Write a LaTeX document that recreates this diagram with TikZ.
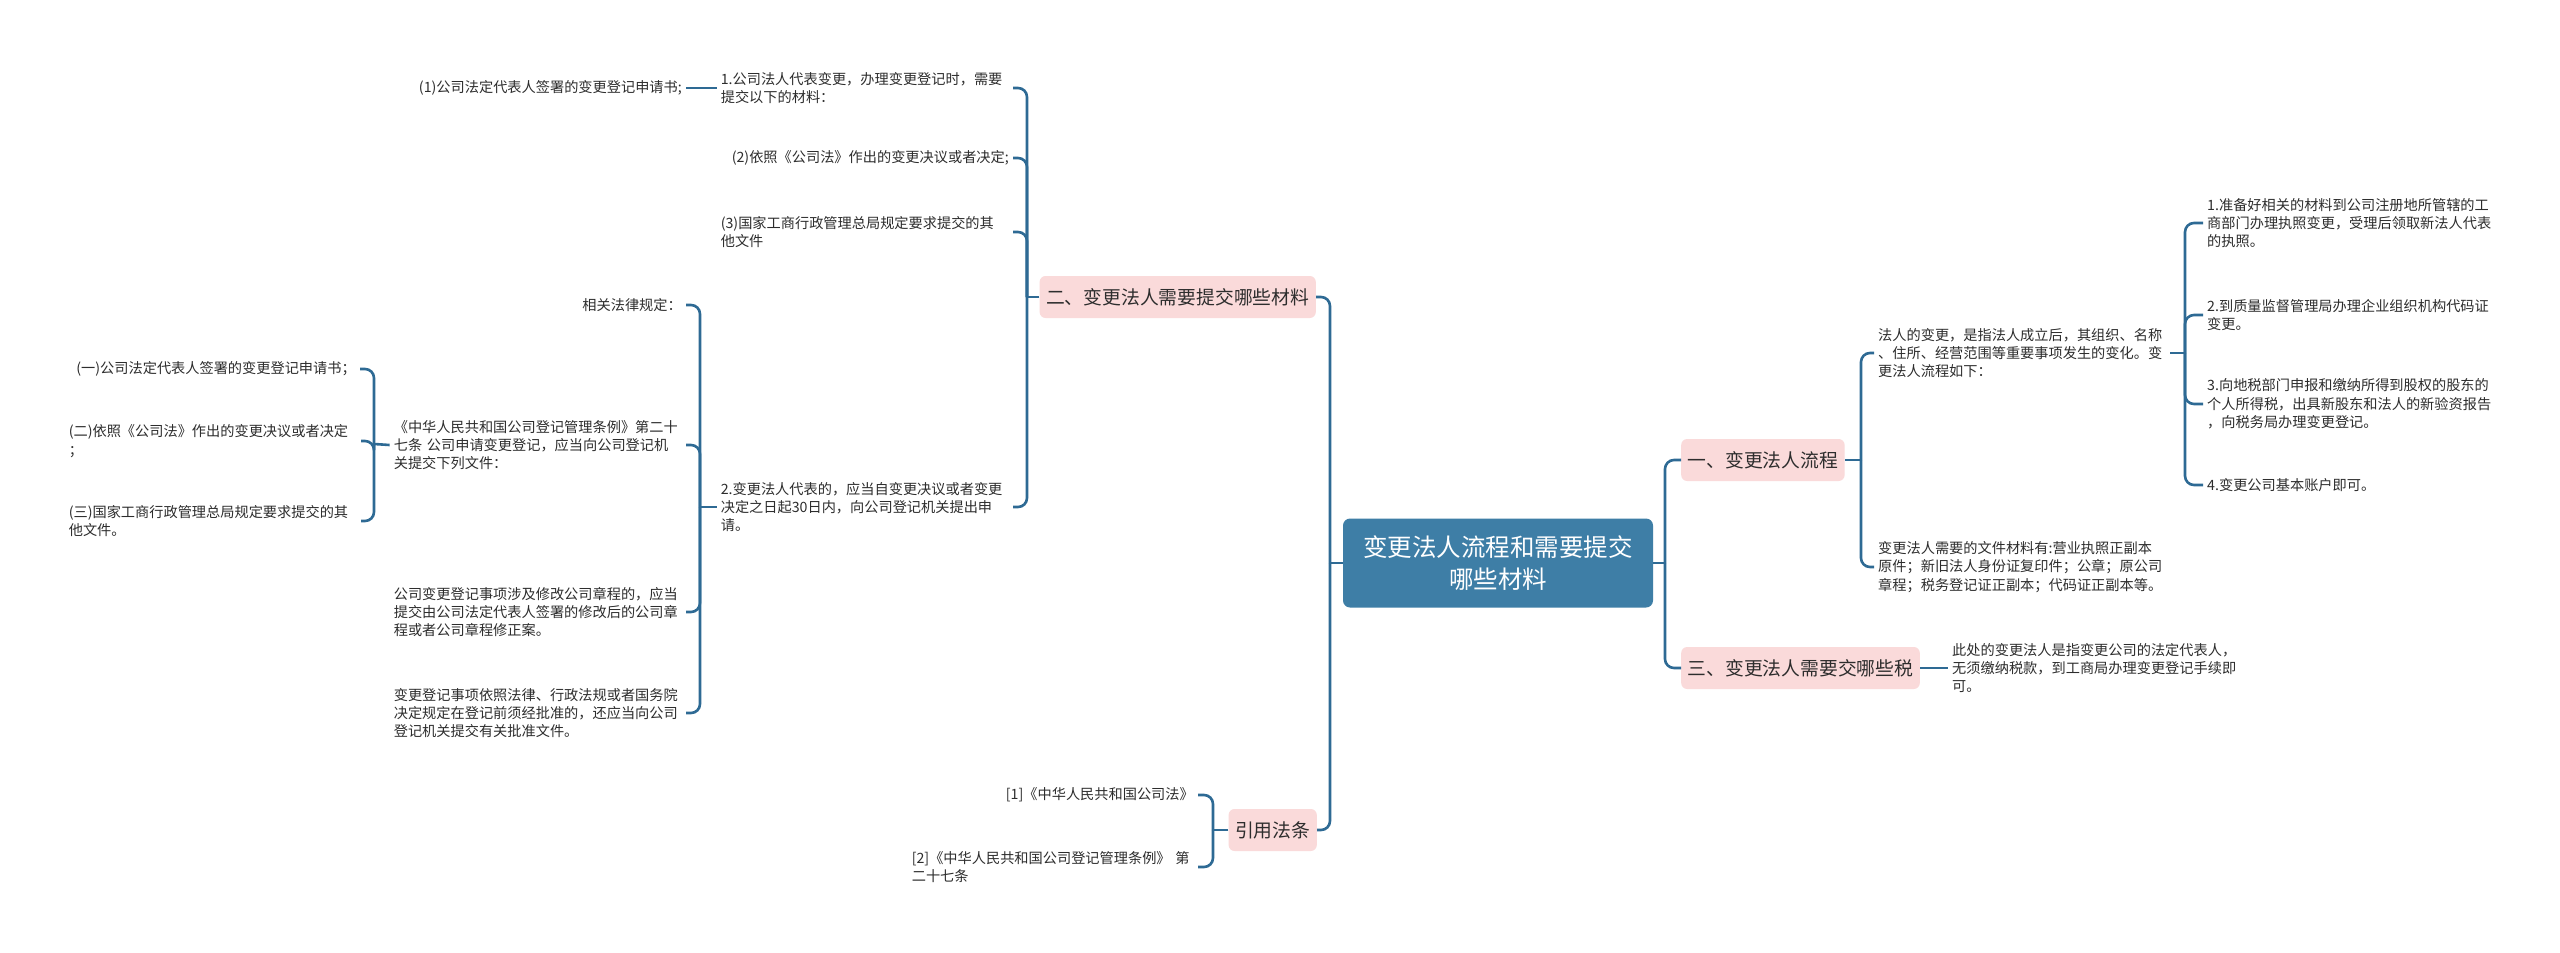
\documentclass[tikz,border=0pt]{standalone}
\usepackage{fontspec}
\newfontfamily\cjk{Noto Sans CJK SC}
\definecolor{lnk}{RGB}{46,106,148}
\definecolor{rootc}{RGB}{62,126,166}
\definecolor{pinkc}{RGB}{250,218,218}
\definecolor{txtc}{RGB}{45,45,45}
\begin{document}
\begin{tikzpicture}[x=1pt,y=-1pt,
 conn/.style={draw=lnk, line width=2.6pt, rounded corners=9pt},
 leaf/.style={font=\cjk\fontsize{14.2}{18.4}\selectfont, text=txtc, inner xsep=4pt, inner ysep=2pt, align=left},
 wrap/.style={leaf, text width=288pt},
 lvl/.style={font=\cjk\fontsize{18.8}{24}\selectfont, fill=pinkc, rounded corners=6pt, text=txtc, minimum height=42pt, inner xsep=6.5pt},
 rootbox/.style={font=\cjk\fontsize{24.5}{32}\selectfont, fill=rootc, text=white, rounded corners=7pt, minimum width=310pt, minimum height=89pt, align=center}]
\fill[white] (0,0) rectangle (2560,953);
\useasboundingbox (0,0) rectangle (2560,953);

% root
\node[rootbox] (root) at (1498,563) {变更法人流程和需要提交\\哪些材料};

% level 1
\node[lvl, anchor=west] (n1) at (1681,460) {一、变更法人流程};
\node[lvl, anchor=west] (n3) at (1681,668) {三、变更法人需要交哪些税};
\node[lvl, anchor=east] (n2) at (1316,297) {二、变更法人需要提交哪些材料};
\node[lvl, anchor=east] (n4) at (1317,830) {引用法条};

% right side leaves
\node[wrap, anchor=west] (R1) at (1874,353) {法人的变更，是指法人成立后，其组织、名称\\、住所、经营范围等重要事项发生的变化。变\\更法人流程如下：};
\node[wrap, anchor=west] (R2) at (1874,567) {变更法人需要的文件材料有:营业执照正副本\\原件；新旧法人身份证复印件；公章；原公司\\章程；税务登记证正副本；代码证正副本等。};
\node[wrap, anchor=west] (R11) at (2203,223) {1.准备好相关的材料到公司注册地所管辖的工\\商部门办理执照变更，受理后领取新法人代表\\的执照。};
\node[wrap, anchor=west] (R12) at (2203,315) {2.到质量监督管理局办理企业组织机构代码证\\变更。};
\node[wrap, anchor=west] (R13) at (2203,404) {3.向地税部门申报和缴纳所得到股权的股东的\\个人所得税，出具新股东和法人的新验资报告\\，向税务局办理变更登记。};
\node[leaf, anchor=west] (R14) at (2203,485) {4.变更公司基本账户即可。};
\node[wrap, anchor=west] (R3) at (1948,668) {此处的变更法人是指变更公司的法定代表人，\\无须缴纳税款，到工商局办理变更登记手续即\\可。};

% left side leaves
\node[wrap, anchor=east] (L1) at (1013,88) {1.公司法人代表变更，办理变更登记时，需要\\提交以下的材料：};
\node[leaf, anchor=east] (L11) at (686,88) {(1)公司法定代表人签署的变更登记申请书;};
\node[leaf, anchor=east] (L2) at (1013,158) {(2)依照《公司法》作出的变更决议或者决定;};
\node[wrap, anchor=east] (L3) at (1013,232) {(3)国家工商行政管理总局规定要求提交的其\\他文件};
\node[wrap, anchor=east] (L4) at (1013,507) {2.变更法人代表的，应当自变更决议或者变更\\决定之日起30日内，向公司登记机关提出申\\请。};
\node[leaf, anchor=east] (L41) at (686,305) {相关法律规定：};
\node[wrap, anchor=east] (L42) at (686,445) {《中华人民共和国公司登记管理条例》第二十\\七条~公司申请变更登记，应当向公司登记机\\关提交下列文件：};
\node[wrap, anchor=east] (L43) at (686,612) {公司变更登记事项涉及修改公司章程的，应当\\提交由公司法定代表人签署的修改后的公司章\\程或者公司章程修正案。};
\node[wrap, anchor=east] (L44) at (686,713) {变更登记事项依照法律、行政法规或者国务院\\决定规定在登记前须经批准的，还应当向公司\\登记机关提交有关批准文件。};
\node[leaf, anchor=east] (L421) at (360,369) {(一)公司法定代表人签署的变更登记申请书；};
\node[wrap, anchor=east] (L422) at (361,441) {(二)依照《公司法》作出的变更决议或者决定\\；};
\node[wrap, anchor=east] (L423) at (361,521) {(三)国家工商行政管理总局规定要求提交的其\\他文件。};
\node[leaf, anchor=east] (C1) at (1198,795) {[1]《中华人民共和国公司法》};
\node[wrap, anchor=east, text width=282pt] (C2) at (1198,867) {[2]《中华人民共和国公司登记管理条例》~第\\二十七条};

% junctions
\coordinate (jR) at (1665,563);
\coordinate (j1) at (1861,460);
\coordinate (j11) at (2185,353);
\coordinate (jL) at (1330,563);
\coordinate (j2) at (1027,297);
\coordinate (j4) at (700,507);
\coordinate (j42) at (374,444);
\coordinate (j5) at (1213,830);

% right connectors
\draw[conn] (root.east) -- (jR);
\draw[conn] (jR) |- (n1.west);
\draw[conn] (jR) |- (n3.west);
\draw[conn] (n1.east) -- (j1);
\draw[conn] (j1) |- (R1.west);
\draw[conn] (j1) |- (R2.west);
\draw[conn] (R1.east) -- (j11);
\draw[conn] (j11) |- (R11.west);
\draw[conn] (j11) |- (R12.west);
\draw[conn] (j11) |- (R13.west);
\draw[conn] (j11) |- (R14.west);
\draw[conn] (n3.east) -- (R3.west);

% left connectors
\draw[conn] (root.west) -- (jL);
\draw[conn] (jL) |- (n2.east);
\draw[conn] (jL) |- (n4.east);
\draw[conn] (n2.west) -- (j2);
\draw[conn] (j2) |- (L1.east);
\draw[conn] (j2) |- (L2.east);
\draw[conn] (j2) |- (L3.east);
\draw[conn] (j2) |- (L4.east);
\draw[conn] (L1.west) -- (L11.east);
\draw[conn] (L4.west) -- (j4);
\draw[conn] (j4) |- (L41.east);
\draw[conn] (j4) |- (L42.east);
\draw[conn] (j4) |- (L43.east);
\draw[conn] (j4) |- (L44.east);
\draw[conn] (L42.west) -- (j42);
\draw[conn] (j42) |- (L421.east);
\draw[conn] (j42) |- (L422.east);
\draw[conn] (j42) |- (L423.east);
\draw[conn] (n4.west) -- (j5);
\draw[conn] (j5) |- (C1.east);
\draw[conn] (j5) |- (C2.east);
\end{tikzpicture}
\end{document}
